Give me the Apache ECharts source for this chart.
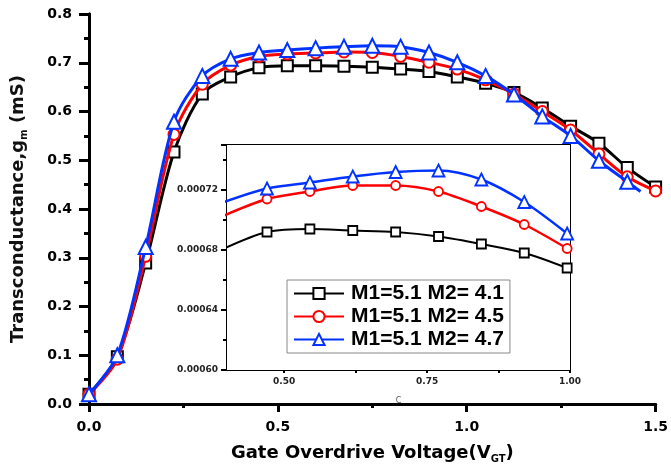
<!DOCTYPE html>
<html>
<head>
<meta charset="utf-8">
<script src="https://cdn.jsdelivr.net/npm/echarts@6/dist/echarts.min.js"></script>
<style>
  html, body { margin: 0; padding: 0; background: #fff; }
  #chart { width: 671px; height: 473px; }
</style>
</head>
<body>
<div id="chart"></div>
<script>
// series names
var names = ['M1=5.1 M2= 4.1', 'M1=5.1 M2= 4.5', 'M1=5.1 M2= 4.7'];

// main plot, gate overdrive voltage (V)
var vgt = [0, 0.075, 0.15, 0.225, 0.3, 0.375, 0.45, 0.525, 0.6, 0.675, 0.75,
           0.825, 0.9, 0.975, 1.05, 1.125, 1.2, 1.275, 1.35, 1.425, 1.5];
// transconductance (mS)
var gm41 = [0.02, 0.097, 0.289, 0.517, 0.636, 0.671, 0.690, 0.694, 0.694, 0.693, 0.691,
            0.687, 0.682, 0.671, 0.658, 0.639, 0.607, 0.570, 0.535, 0.485, 0.445];
var gm45 = [0.02, 0.092, 0.303, 0.553, 0.656, 0.695, 0.713, 0.718, 0.720, 0.722, 0.721,
            0.713, 0.701, 0.687, 0.665, 0.636, 0.600, 0.562, 0.513, 0.466, 0.437];
var gm47 = [0.02, 0.100, 0.322, 0.579, 0.673, 0.708, 0.721, 0.726, 0.730, 0.733, 0.735,
            0.733, 0.721, 0.701, 0.673, 0.635, 0.590, 0.550, 0.499, 0.456];
// blue curve runs on a little past its last marker
var gm47End = [1.46, 0.436];

// inset (S)
var vgtIn = [0.395, 0.47, 0.545, 0.62, 0.695, 0.77, 0.845, 0.92, 0.995];
var in41 = [0.000681, 0.000692, 0.000694, 0.000693, 0.000692, 0.000689, 0.000684, 0.000678, 0.000668];
var in45 = [0.000703, 0.000714, 0.000719, 0.000723, 0.000723, 0.000719, 0.000709, 0.000697, 0.000681];
var in47 = [0.000712, 0.000721, 0.000725, 0.000729, 0.000732, 0.000733, 0.000727, 0.000712, 0.000691];

var inXLabels = [0.5, 0.75, 1.0];
var inXTicks = [0.5, 0.625, 0.75, 0.875, 1.0];

function pairs(xs, ys) {
  var out = [];
  for (var i = 0; i < ys.length; i++) out.push([xs[i], ys[i]]);
  return out;
}

var FONT = 'DejaVu Sans';
var colors = ['#000000', '#ff0000', '#0033ff'];
var symbols = ['rect', 'circle', 'triangle'];

var blueMain = pairs(vgt, gm47);
blueMain.push({ value: gm47End, symbol: 'none' });

var mainData = [pairs(vgt, gm41), pairs(vgt, gm45), blueMain];
var insetData = [pairs(vgtIn, in41), pairs(vgtIn, in45), pairs(vgtIn, in47)];

var series = [];
for (var i = 0; i < 3; i++) {
  series.push({
    name: names[i],
    type: 'line',
    xAxisIndex: 0,
    yAxisIndex: 0,
    data: mainData[i],
    smooth: 0.3,
    symbol: symbols[i],
    symbolSize: i === 2 ? 14 : 11,
    showAllSymbol: true,
    color: colors[i],
    lineStyle: { width: 3, color: colors[i] },
    itemStyle: { color: '#fff', borderColor: colors[i], borderWidth: 2 },
    z: 2 + i
  });
}
for (var j = 0; j < 3; j++) {
  series.push({
    name: names[j],
    type: 'line',
    xAxisIndex: 2,
    yAxisIndex: 2,
    data: insetData[j],
    smooth: 0.3,
    symbol: symbols[j],
    symbolSize: j === 2 ? 12 : 9,
    color: colors[j],
    lineStyle: { width: j === 0 ? 2 : 2.5, color: colors[j] },
    itemStyle: { color: '#fff', borderColor: colors[j], borderWidth: 1.8 },
    z: 10 + j
  });
}

var myChart = echarts.init(document.getElementById('chart'));

var option = {
  backgroundColor: '#fff',
  animation: false,
  textStyle: { fontFamily: FONT },
  grid: [
    { left: 89, top: 14, right: 11, bottom: 69 },
    { left: 227, top: 145, width: 343, height: 225, backgroundColor: '#fff', show: true, borderWidth: 0, z: 8 }
  ],
  legend: {
    data: names,
    orient: 'vertical',
    left: 287,
    top: 280,
    z: 20,
    padding: [3, 6, 3, 6],
    itemGap: 2,
    itemWidth: 50,
    itemHeight: 14,
    backgroundColor: '#fff',
    borderColor: '#888',
    borderWidth: 1,
    borderRadius: 0,
    textStyle: { fontFamily: 'Liberation Sans', fontWeight: 'bold', fontSize: 21, color: '#000', padding: [0, 0, 0, 2] }
  },
  xAxis: [
    {
      type: 'value', gridIndex: 0, position: 'bottom',
      min: 0, max: 1.5, interval: 0.5,
      name: 'Gate Overdrive Voltage(V{sub|GT})',
      nameLocation: 'middle', nameGap: 38,
      nameTextStyle: {
        fontFamily: FONT, fontWeight: 'bold', fontSize: 18, color: '#000',
        rich: { sub: { fontFamily: FONT, fontWeight: 'bold', fontSize: 10, color: '#000', padding: [12, 0, 0, 0] } }
      },
      axisLine: { lineStyle: { color: '#000', width: 3 } },
      axisTick: { inside: false, length: 8, lineStyle: { width: 3, color: '#000' } },
      minorTick: { show: true, splitNumber: 2, length: 4, lineStyle: { width: 3, color: '#000' } },
      axisLabel: {
        margin: 16, fontFamily: FONT, fontWeight: 'bold', fontSize: 14, color: '#000',
        formatter: function (v) { return v.toFixed(1); }
      },
      splitLine: { show: false }
    },
    {
      type: 'value', gridIndex: 0, position: 'top',
      min: 0, max: 1.5, interval: 0.5,
      axisLine: { lineStyle: { color: '#000', width: 3 } },
      axisTick: { show: false },
      axisLabel: { show: false },
      splitLine: { show: false }
    },
    {
      type: 'value', gridIndex: 1, position: 'bottom',
      min: 0.4, max: 1.0,
      name: 'C', nameLocation: 'middle', nameGap: 27,
      nameTextStyle: { fontFamily: FONT, fontSize: 8, color: '#555' },
      axisLine: { lineStyle: { color: '#000', width: 2 } },
      axisTick: { customValues: inXTicks, length: 3, lineStyle: { width: 2, color: '#000' } },
      axisLabel: {
        customValues: inXLabels, margin: 7,
        fontFamily: FONT, fontWeight: 'bold', fontSize: 9, color: '#222',
        formatter: function (v) { return v.toFixed(2); }
      },
      splitLine: { show: false }
    },
    {
      type: 'value', gridIndex: 1, position: 'top',
      min: 0.4, max: 1.0,
      axisLine: { lineStyle: { color: '#000', width: 2 } },
      axisTick: { customValues: inXTicks, inside: true, length: 3, lineStyle: { width: 2, color: '#000' } },
      axisLabel: { show: false },
      splitLine: { show: false }
    }
  ],
  yAxis: [
    {
      type: 'value', gridIndex: 0, position: 'left',
      min: 0, max: 0.8, interval: 0.1,
      name: 'Transconductance,g{sub|m} (mS)',
      nameLocation: 'middle', nameGap: 60,
      nameTextStyle: {
        fontFamily: FONT, fontWeight: 'bold', fontSize: 18, color: '#111',
        rich: { sub: { fontFamily: FONT, fontWeight: 'bold', fontSize: 10, color: '#111', padding: [12, 0, 0, 0] } }
      },
      axisLine: { lineStyle: { color: '#000', width: 3 } },
      axisTick: { inside: false, length: 10, lineStyle: { width: 3, color: '#000' } },
      minorTick: { show: true, splitNumber: 2, length: 5, lineStyle: { width: 3, color: '#000' } },
      axisLabel: {
        margin: 17, fontFamily: FONT, fontWeight: 'bold', fontSize: 14, color: '#000',
        formatter: function (v) { return v.toFixed(1); }
      },
      splitLine: { show: false }
    },
    {
      type: 'value', gridIndex: 0, position: 'right',
      min: 0, max: 0.8, interval: 0.05,
      axisLine: { show: true, lineStyle: { color: '#000', width: 3 } },
      axisTick: { show: true, inside: true, length: 5, lineStyle: { width: 3, color: '#000' } },
      axisLabel: { show: false },
      splitLine: { show: false }
    },
    {
      type: 'value', gridIndex: 1, position: 'left',
      min: 0.0006, max: 0.00075, interval: 0.00004,
      axisLine: { lineStyle: { color: '#000', width: 2 } },
      axisTick: { inside: false, length: 6, lineStyle: { width: 2, color: '#000' } },
      minorTick: { show: true, splitNumber: 2, length: 4, lineStyle: { width: 2, color: '#000' } },
      axisLabel: {
        margin: 9, showMaxLabel: false,
        fontFamily: FONT, fontWeight: 'bold', fontSize: 9, color: '#222',
        formatter: function (v) { return v.toFixed(5); }
      },
      splitLine: { show: false }
    },
    {
      type: 'value', gridIndex: 1, position: 'right',
      min: 0.0006, max: 0.00075, interval: 0.00002,
      axisLine: { show: true, lineStyle: { color: '#000', width: 2 } },
      axisTick: { show: true, inside: true, length: 4, lineStyle: { width: 2, color: '#000' } },
      axisLabel: { show: false },
      splitLine: { show: false }
    }
  ],
  series: series
};

option && myChart.setOption(option);
</script>
</body>
</html>
